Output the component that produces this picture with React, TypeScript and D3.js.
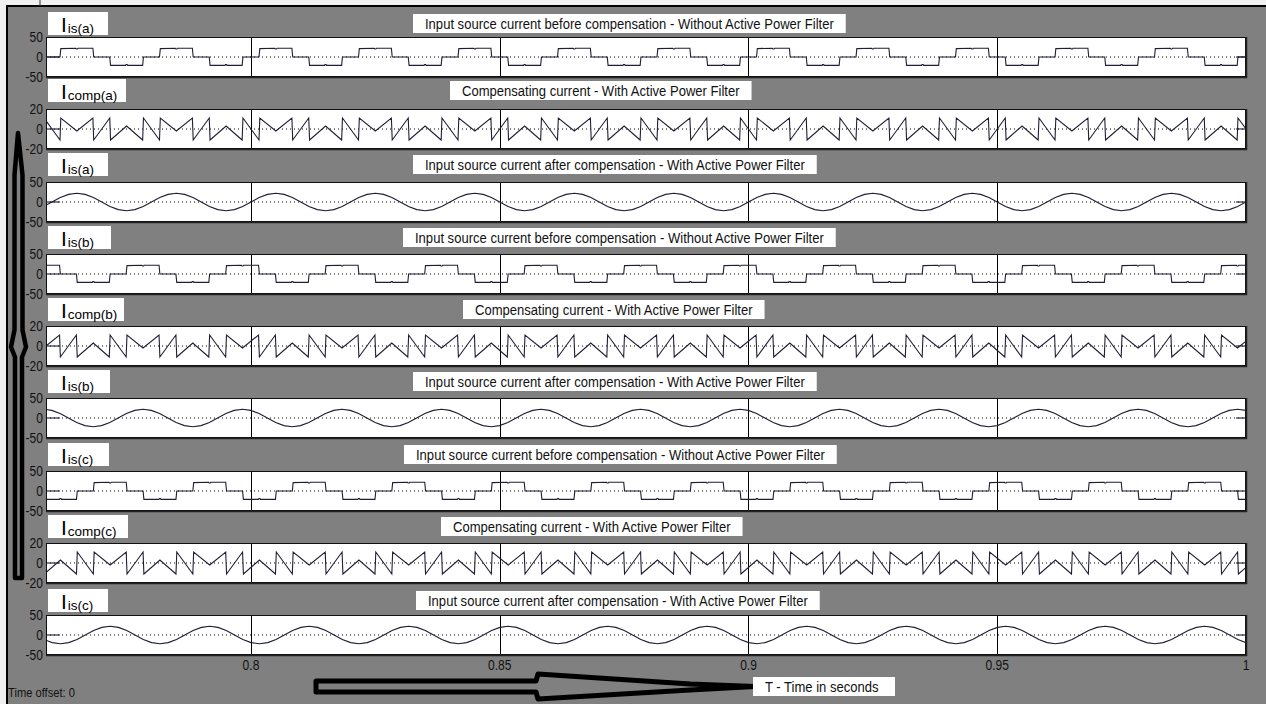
import React, { useEffect, useRef } from "react";
import * as d3 from "d3";

// ---------- data ----------
const TIME_DOMAIN = [0.7588, 1.0];
const TIME_TICKS = [0.8, 0.85, 0.9, 0.95, 1];
const TIME_TICK_LABELS = ["0.8", "0.85", "0.9", "0.95", "1"];
const PERIOD = 0.02;

const PHASE_NAMES = ["a", "b", "c"];
// time of each phase's upward zero crossing of the compensated source current
const PHASE_ZERO_CROSSING = [0.76, 0.7733, 0.7667];

// one cycle of each waveform, degrees from the phase zero crossing, values in A
const LOAD_CYCLE_DEG = [0, 29, 32, 86, 88, 92, 94, 148, 151, 209, 212, 266, 268, 272, 274, 328, 331, 360];
const LOAD_CYCLE_VAL = [0, 0, 21, 22, 20, 20, 22, 22, 0, 0, -21, -21, -19, -19, -21, -21, 0, 0];
const SOURCE_CYCLE_DEG = [0, 30, 60, 90, 120, 150, 180, 210, 240, 270, 300, 330, 360];
const SOURCE_CYCLE_VAL = [0, 11, 19, 22, 19, 11, 0, -11, -19, -22, -19, -11, 0];
const COMP_CYCLE_DEG = [0, 29, 32, 90, 148, 151, 209, 212, 270, 328, 331, 360];
const COMP_CYCLE_VAL = [0, -11, 11, -2, 11, -11, 11, -11, 3, -11, 11, 0];

const PANEL_SIGNALS = ["load", "comp", "source", "load", "comp", "source", "load", "comp", "source"];
const PANEL_PHASE = [0, 0, 0, 1, 1, 1, 2, 2, 2];
const PANEL_SUBSCRIPTS = ["is(a)", "comp(a)", "is(a)", "is(b)", "comp(b)", "is(b)", "is(c)", "comp(c)", "is(c)"];
const PANEL_TITLES = [
  "Input source current before compensation - Without Active Power Filter",
  "Compensating current - With Active Power Filter",
  "Input source current after compensation - With Active Power Filter",
  "Input source current before compensation - Without Active Power Filter",
  "Compensating current - With Active Power Filter",
  "Input source current after compensation - With Active Power Filter",
  "Input source current before compensation - Without Active Power Filter",
  "Compensating current - With Active Power Filter",
  "Input source current after compensation - With Active Power Filter",
];
const PANEL_Y_LIMIT = [50, 20, 50, 50, 20, 50, 50, 20, 50];

const X_AXIS_TITLE = "T - Time in seconds";
const TIME_OFFSET_TEXT = "Time offset:  0";

// ---------- layout ----------
const W = 1266;
const H = 704;
const LEFT = 46;
const RIGHT = 1246;
const TOP0 = 37;
const PITCH = 72.25;
const PH = 40;
const LABEL_BOX_W = [60, 78, 60, 63, 76, 62, 61, 80, 60];
const LABEL_GAP = [2, 7, 6, 5, 5, 5, 5, 5, 3];
const TITLE_X = [425, 462, 425, 415, 475, 425, 416, 453, 428];
const BG = "#808080";
const WAVE = "#1e1e34";
const NARROW = 0.87;

const cycles: Record<string, { deg: number[]; val: number[] }> = {
  load: { deg: LOAD_CYCLE_DEG, val: LOAD_CYCLE_VAL },
  source: { deg: SOURCE_CYCLE_DEG, val: SOURCE_CYCLE_VAL },
  comp: { deg: COMP_CYCLE_DEG, val: COMP_CYCLE_VAL },
};

function buildSeries(signal: string, phase: number): [number, number][] {
  const c = cycles[signal];
  const t0 = PHASE_ZERO_CROSSING[phase];
  const pts: [number, number][] = [];
  for (let k = -2; k <= 14; k++) {
    c.deg.forEach((d, i) => {
      if (i === 0 && k > -2) return;
      const t = t0 + (k + d / 360) * PERIOD;
      pts.push([t, c.val[i]]);
    });
  }
  return pts.filter((p) => p[0] >= TIME_DOMAIN[0] - PERIOD && p[0] <= TIME_DOMAIN[1] + PERIOD);
}

export default function App() {
  const ref = useRef<SVGSVGElement | null>(null);

  useEffect(() => {
    const svg = d3.select(ref.current);
    svg.selectAll("*").remove();
    const x = d3.scaleLinear().domain(TIME_DOMAIN).range([LEFT, RIGHT]);

    svg.append("rect").attr("width", W).attr("height", H).attr("fill", "#f0f0f0");
    svg.append("rect").attr("x", 7).attr("y", 6).attr("width", W - 7).attr("height", H - 6).attr("fill", BG);
    svg.append("line").attr("x1", 6).attr("x2", W).attr("y1", 6).attr("y2", 6).attr("stroke", "#000").attr("stroke-width", 2);
    svg.append("line").attr("x1", 7).attr("x2", 7).attr("y1", 5).attr("y2", H).attr("stroke", "#000").attr("stroke-width", 2);
    svg.append("line").attr("x1", 40).attr("x2", 40).attr("y1", 0).attr("y2", 6).attr("stroke", "#333").attr("stroke-width", 1);

    const defs = svg.append("defs");

    const narrowText = (
      parent: d3.Selection<any, unknown, null, undefined>,
      tx: number,
      ty: number,
      text: string,
      size: number,
      anchor: string,
      scale = NARROW
    ) => {
      const g = parent.append("g").attr("transform", `translate(${tx},${ty}) scale(${scale},1)`);
      const t = g
        .append("text")
        .attr("text-anchor", anchor)
        .attr("font-family", "'Liberation Sans', Arial, sans-serif")
        .attr("font-size", size)
        .attr("fill", "#111")
        .text(text);
      return t;
    };

    PANEL_SIGNALS.forEach((signal, i) => {
      const top = Math.round(TOP0 + i * PITCH);
      const lim = PANEL_Y_LIMIT[i];
      const y = d3.scaleLinear().domain([-lim, lim]).range([top + PH, top]);
      const g = svg.append("g");

      // label box
      const lbBottom = top - LABEL_GAP[i];
      const lbTop = lbBottom - 23;
      g.append("rect").attr("x", 48).attr("y", lbTop).attr("width", LABEL_BOX_W[i]).attr("height", 23).attr("fill", "#fff");
      const lt = g
        .append("text")
        .attr("x", 61)
        .attr("y", lbBottom - 3)
        .attr("font-family", "'Liberation Sans', Arial, sans-serif")
        .attr("fill", "#000");
      lt.append("tspan").attr("font-size", 21).text("I");
      lt.append("tspan").attr("font-size", 13.5).attr("dx", 1).attr("dy", 1).text(PANEL_SUBSCRIPTS[i]);

      // title box
      const tbBottom = lbBottom - 2;
      const tbTop = tbBottom - 19;
      const tRect = g.append("rect").attr("y", tbTop).attr("height", 19).attr("fill", "#fff");
      const tt = narrowText(g, TITLE_X[i], tbBottom - 4, PANEL_TITLES[i], 15, "start");
      const tw = (tt.node() as SVGTextElement).getComputedTextLength() * NARROW;
      tRect.attr("x", TITLE_X[i] - 12).attr("width", tw + 24);

      // plot area
      const clipId = `clip${i}`;
      defs.append("clipPath").attr("id", clipId).append("rect").attr("x", LEFT).attr("y", top).attr("width", RIGHT - LEFT).attr("height", PH);
      g.append("rect").attr("x", LEFT).attr("y", top).attr("width", RIGHT - LEFT).attr("height", PH).attr("fill", "#fff");

      const pg = g.append("g").attr("clip-path", `url(#${clipId})`);
      pg.append("line")
        .attr("x1", LEFT).attr("x2", RIGHT)
        .attr("y1", y(0)).attr("y2", y(0))
        .attr("stroke", "#000").attr("stroke-width", 1).attr("stroke-dasharray", "1,3");
      TIME_TICKS.forEach((tk) => {
        pg.append("line")
          .attr("x1", Math.round(x(tk)) + 0.5).attr("x2", Math.round(x(tk)) + 0.5)
          .attr("y1", top).attr("y2", top + PH)
          .attr("stroke", "#000").attr("stroke-width", 1);
      });

      const line = d3.line<[number, number]>().x((d) => x(d[0])).y((d) => y(d[1]));
      pg.append("path")
        .attr("d", line(buildSeries(signal, PANEL_PHASE[i])) || "")
        .attr("fill", "none").attr("stroke", WAVE).attr("stroke-width", 1.1);
      // short flat segments at the ends of the trace
      pg.append("path")
        .attr("d", line([[TIME_DOMAIN[0], 0], [TIME_DOMAIN[0] + 0.0028, 0]]) || "")
        .attr("stroke", WAVE).attr("stroke-width", 1.1);
      pg.append("path")
        .attr("d", line([[TIME_DOMAIN[1] - 0.002, 0], [TIME_DOMAIN[1], 0]]) || "")
        .attr("stroke", WAVE).attr("stroke-width", 1.1);

      // frame
      g.append("rect").attr("x", LEFT + 0.5).attr("y", top + 0.5).attr("width", RIGHT - LEFT - 1).attr("height", PH - 1)
        .attr("fill", "none").attr("stroke", "#111").attr("stroke-width", 1);
      g.append("path").attr("d", `M${LEFT},${top + PH + 0.5}H${RIGHT + 0.5}V${top}`)
        .attr("fill", "none").attr("stroke", "#222").attr("stroke-width", 1.5);

      // y ticks
      [lim, 0, -lim].forEach((v) => {
        narrowText(g, 43, y(v) + 5, String(v), 14, "end", 0.86);
      });
    });

    // x tick labels
    const lastBottom = Math.round(TOP0 + 8 * PITCH) + PH;
    TIME_TICKS.forEach((tk, j) => {
      narrowText(svg as any, x(tk), lastBottom + 15, TIME_TICK_LABELS[j], 14, "middle", 0.86);
    });

    narrowText(svg as any, 8, 697, TIME_OFFSET_TEXT, 13, "start", 0.86);

    // hand-drawn arrows
    svg.append("path")
      .attr("d", "M18,133 L22.5,175 L22.5,330 L26,347 L22,357 L22,578 L15,578 L15,357 L11,347 L14.5,330 L14.5,175 Z")
      .attr("fill", BG).attr("stroke", "#000").attr("stroke-width", 4.5).attr("stroke-linejoin", "round");
    svg.append("path")
      .attr("d", "M316,681 L536,681 L538,674 L690,684 L755,686.5 L690,690 L538,699 L536,692 L316,692 Z")
      .attr("fill", BG).attr("stroke", "#000").attr("stroke-width", 5).attr("stroke-linejoin", "round");

    // x axis title box
    svg.append("rect").attr("x", 753).attr("y", 677).attr("width", 142).attr("height", 19).attr("fill", "#fff");
    narrowText(svg as any, 765, 692, X_AXIS_TITLE, 15, "start");
  }, []);

  return (
    <svg
      ref={ref}
      width={W}
      height={H}
      style={{ position: "absolute", left: 0, top: 0, display: "block" }}
    />
  );
}
